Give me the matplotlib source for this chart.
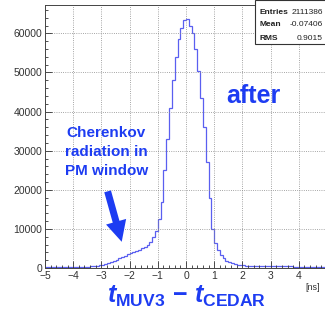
import numpy as np
import matplotlib.pyplot as plt
from matplotlib.ticker import MultipleLocator
from matplotlib.patches import Rectangle

# histogram of t_MUV3 - t_CEDAR, 100 bins from -5 to 5 ns
bin_edges = np.linspace(-5, 5, 101)
counts = [
    350, 340, 350, 330, 350, 340, 360, 350, 340, 350,   # -5.0 .. -4.1
    350, 360, 340, 350, 360, 370, 400, 450, 550, 700,   # -4.0 .. -3.1
    850, 1050, 1300, 1550, 1850, 2150, 2450, 2800, 3150, 3500,   # -3.0 .. -2.1
    3800, 4100, 4400, 4700, 5000, 5400, 5900, 6700, 8000, 9500,  # -2.0 .. -1.1
    12500, 17000, 25000, 33000, 41000, 48000, 54000, 58500, 61500, 63500,  # -1.0 .. -0.1
    63800, 62000, 60000, 56000, 50500, 43500, 36000, 27000, 18000, 10000,  # 0.0 .. 0.9
    6500, 4500, 3300, 2500, 1900, 1500, 1200, 1000, 850, 750,   # 1.0 .. 1.9
    650, 600, 550, 520, 500, 480, 470, 460, 450, 440,   # 2.0 .. 2.9
    430, 420, 420, 410, 400, 400, 390, 390, 380, 380,   # 3.0 .. 3.9
    380, 370, 370, 360, 360, 360, 350, 350, 350, 340,   # 4.0 .. 4.9
]
stats_names = ['Entries', 'Mean', 'RMS']
stats_values = ['2111386', '-0.07406', '0.9015']

blue_text = '#1d3cf2'
line_col = '#5a5ff0'

plt.rcParams['font.family'] = ['Liberation Sans', 'DejaVu Sans']
plt.rcParams['mathtext.fontset'] = 'custom'
plt.rcParams['mathtext.it'] = 'Liberation Sans:bold:italic'
plt.rcParams['mathtext.bf'] = 'Liberation Sans:bold'
plt.rcParams['mathtext.rm'] = 'Liberation Sans:bold'

fig = plt.figure(figsize=(3.25, 3.13), dpi=100)
ax = fig.add_axes([45 / 325, 1 - 268 / 313, 282 / 325, 263 / 313])

ax.stairs(counts, bin_edges, color=line_col, linewidth=0.9)
ax.set_xlim(-5, 5)
ax.set_ylim(0, 67260)

ax.xaxis.set_major_locator(MultipleLocator(1))
ax.xaxis.set_minor_locator(MultipleLocator(0.2))
ax.yaxis.set_major_locator(MultipleLocator(10000))
ax.yaxis.set_minor_locator(MultipleLocator(2000))
ax.tick_params(which='both', direction='in', top=False, right=False,
               colors='#333333', labelsize=7.5, pad=2)
ax.tick_params(which='major', length=5, width=0.6)
ax.tick_params(which='minor', length=2.5, width=0.6)
ax.grid(True, which='major', linestyle=':', color='#888888', linewidth=0.6)
for sp in ax.spines.values():
    sp.set_color('#444444')
    sp.set_linewidth(0.7)

fig.text(313 / 325, 1 - 287 / 313, '[ns]', fontsize=6.5, color='#333333',
         ha='center', va='center')

# annotations
ax.text(-2.82, 29600, 'Cherenkov\nradiation in\nPM window', color=blue_text,
        fontsize=11, fontweight='bold', ha='center', va='center',
        linespacing=1.45)
ax.annotate('', xy=(-2.28, 6700), xytext=(-2.78, 19600),
            arrowprops=dict(arrowstyle='simple,head_width=1.5,head_length=1.5,tail_width=0.5',
                            color=blue_text, lw=0, shrinkA=0, shrinkB=0))
ax.text(2.38, 44000, 'after', color=blue_text, fontsize=18, fontweight='bold',
        ha='center', va='center')

fig.text(187 / 325, 1 - 296 / 313, r'$\mathit{t}_{\mathbf{MUV3}}\ \mathbf{-}\ \mathit{t}_{\mathbf{CEDAR}}$',
         color=blue_text, fontsize=18, ha='center', va='center')

# stats box
fig.patches.append(Rectangle((255 / 325, 1 - 44 / 313), 72 / 325, 44 / 313,
                             transform=fig.transFigure, facecolor='white',
                             edgecolor='#333333', linewidth=0.8, zorder=5))
for i, (nm, val) in enumerate(zip(stats_names, stats_values)):
    y = 1 - (12 + 13 * i) / 313
    fig.text(259 / 325, y, nm, fontsize=6, fontweight='bold', color='#222222',
             ha='left', va='center', zorder=6)
    fig.text(323 / 325, y, val, fontsize=6, color='#222222',
             ha='right', va='center', zorder=6)

fig.savefig('out.png', dpi=100)
